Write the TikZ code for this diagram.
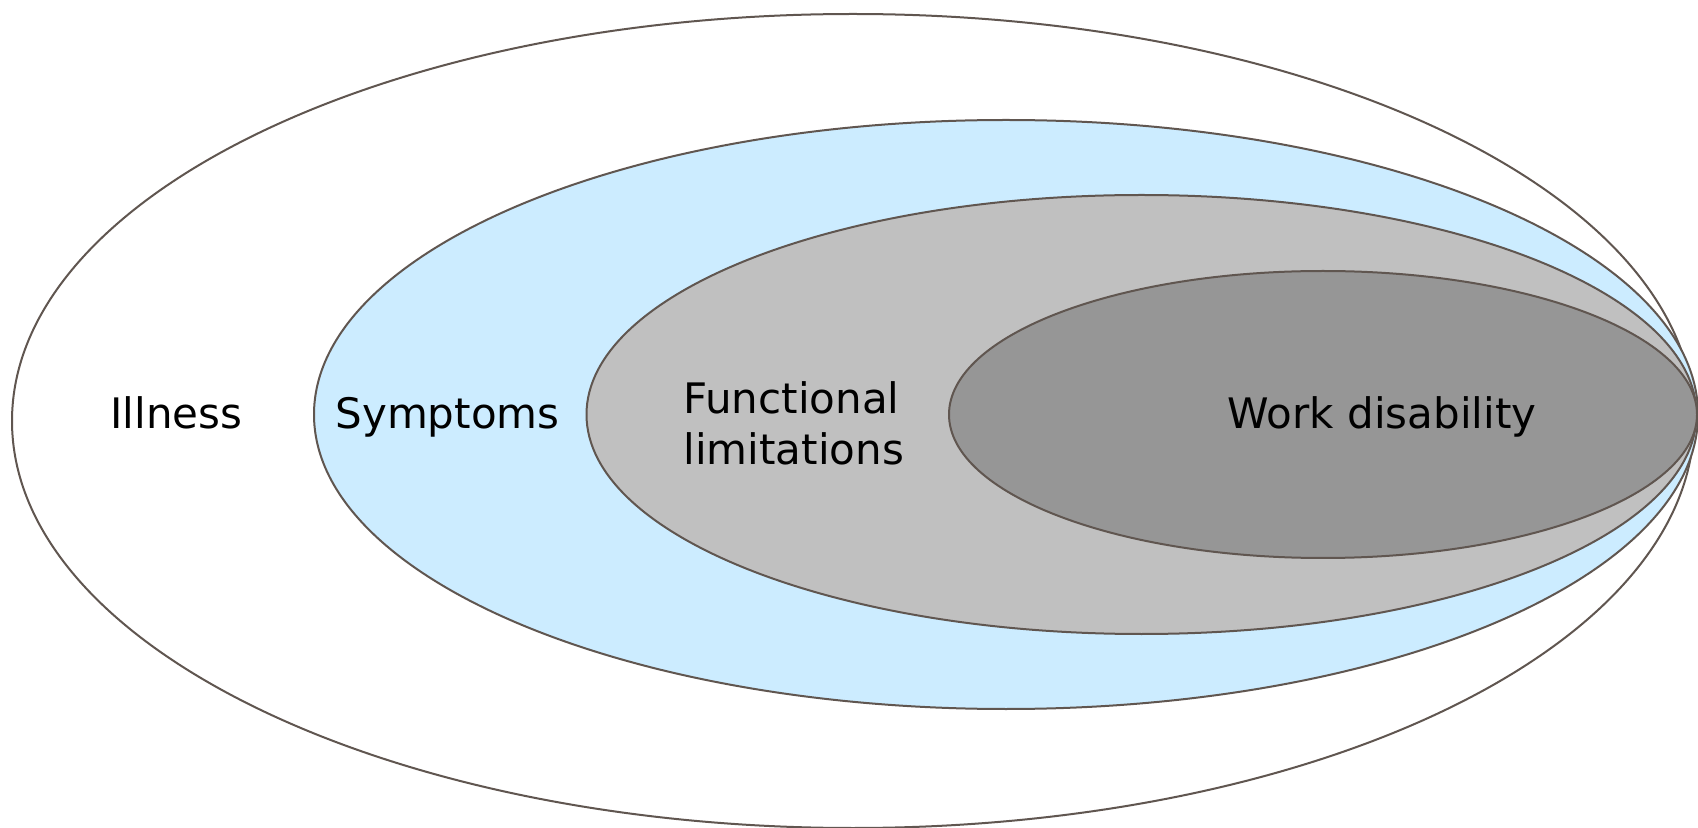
\documentclass[tikz,border=0pt]{standalone}
\usepackage{fontspec}
\setmainfont{DejaVu Sans}
\definecolor{edge}{RGB}{96,86,80}
\definecolor{skyfill}{RGB}{204,236,255}
\definecolor{lightfill}{RGB}{192,192,192}
\definecolor{darkfill}{RGB}{150,150,150}
\begin{document}
\begin{tikzpicture}[x=0.5pt,y=-0.5pt,
  ring/.style={draw=edge,line width=1pt},
  label/.style={font=\fontsize{21}{25.5}\selectfont,inner sep=0pt,text=black}]
\useasboundingbox (0,0) rectangle (1698,828);
\begin{scope}
\clip (0,0) rectangle (1698,828);
\draw[ring,fill=white] (853,421) ellipse [x radius=841, y radius=407];
\draw[ring,fill=skyfill] (1006,414.5) ellipse [x radius=692, y radius=294.5];
\draw[ring,fill=lightfill] (1141.5,414.5) ellipse [x radius=555, y radius=219.5];
\draw[ring,fill=darkfill] (1323,414.5) ellipse [x radius=374, y radius=143.5];
\end{scope}
\node[label,anchor=base] (illness) at (176.5,429) {Illness};
\node[label,anchor=base] (symptoms) at (447.5,429) {Symptoms};
\node[label,anchor=base west,align=left] (functional) at (683,465) {Functional\\limitations};
\node[label,anchor=base] (work) at (1382,429) {Work disability};
\end{tikzpicture}
\end{document}
